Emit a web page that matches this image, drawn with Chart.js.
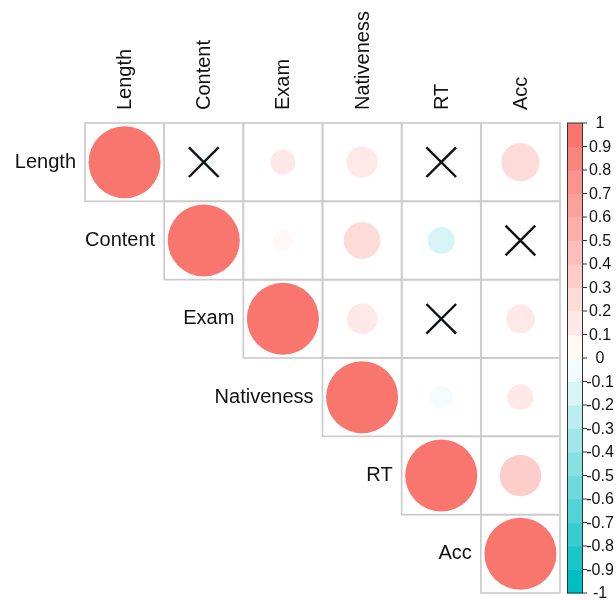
<!DOCTYPE html>
<html>
<head>
<meta charset="utf-8">
<script src="https://cdn.jsdelivr.net/npm/chart.js@4"></script>
<style>
  html, body { margin: 0; padding: 0; background: #ffffff; }
  canvas { display: block; }
</style>
</head>
<body>
<canvas id="corr" width="616" height="600"></canvas>
<script>
// Variables of the correlation matrix (upper triangle is drawn)
const variables = ['Length', 'Content', 'Exam', 'Nativeness', 'RT', 'Acc'];

// Correlation coefficients, one row per variable (null below the diagonal)
const rLength     = [1.00, -0.06, 0.12, 0.19, 0.02, 0.28];
const rContent    = [null, 1.00, 0.08, 0.26, -0.14, 0.03];
const rExam       = [null, null, 1.00, 0.18, -0.06, 0.16];
const rNativeness = [null, null, null, 1.00, -0.10, 0.13];
const rRT         = [null, null, null, null, 1.00, 0.33];
const rAcc        = [null, null, null, null, null, 1.00];
const corrRows = [rLength, rContent, rExam, rNativeness, rRT, rAcc];

// Pairs whose correlation is not significant (crossed out)
const insignificantPairs = [
  ['Length', 'Content'],
  ['Length', 'RT'],
  ['Content', 'Acc'],
  ['Exam', 'RT']
];

// Colour bar tick labels
const colorbarTicks = [1, 0.9, 0.8, 0.7, 0.6, 0.5, 0.4, 0.3, 0.2, 0.1, 0,
  -0.1, -0.2, -0.3, -0.4, -0.5, -0.6, -0.7, -0.8, -0.9, -1];

// Palette: teal -> white -> salmon, 20 discrete steps
const NEG = [0, 191, 196];
const MID = [255, 255, 255];
const POS = [248, 118, 109];
const NSTEPS = 20;

function mix(a, b, f) {
  return a.map((c, i) => Math.round(c + (b[i] - c) * f));
}
function paletteColor(k) {
  const t = k / (NSTEPS - 1);
  const c = t < 0.5 ? mix(NEG, MID, t / 0.5) : mix(MID, POS, (t - 0.5) / 0.5);
  return `rgb(${c[0]},${c[1]},${c[2]})`;
}
function colorFor(v) {
  let k = Math.floor((v + 1) * NSTEPS / 2 + 1e-9);
  k = Math.max(0, Math.min(NSTEPS - 1, k));
  return paletteColor(k);
}

// Circle points
const circlePoints = [];
corrRows.forEach((row, i) => {
  row.forEach((v, j) => {
    if (v !== null) circlePoints.push({ x: j, y: i, v: v });
  });
});

// Cross points
const crossPoints = insignificantPairs.map(([a, b]) => ({
  x: variables.indexOf(b),
  y: variables.indexOf(a)
}));

const FONT = '"Liberation Sans", Arial, Helvetica, sans-serif';

function cellWidth(chart) {
  const xs = chart.scales && chart.scales.x;
  if (!xs) return 0;
  const w = xs.getPixelForValue(1) - xs.getPixelForValue(0);
  return isFinite(w) ? w : 0;
}
function circleRadius(ctx) {
  if (!ctx.raw) return 0;
  return 0.455 * cellWidth(ctx.chart) * Math.sqrt(Math.abs(ctx.raw.v));
}
function circleColor(ctx) {
  return ctx.raw ? colorFor(ctx.raw.v) : POS;
}

const matrixDecor = {
  id: 'matrixDecor',
  beforeDatasetsDraw(chart) {
    const { ctx, scales: { x, y } } = chart;
    ctx.save();
    ctx.strokeStyle = '#cccccc';
    ctx.lineWidth = 1.7;
    corrRows.forEach((row, i) => {
      row.forEach((v, j) => {
        if (v === null) return;
        const x0 = x.getPixelForValue(j - 0.5);
        const x1 = x.getPixelForValue(j + 0.5);
        const y0 = y.getPixelForValue(i - 0.5);
        const y1 = y.getPixelForValue(i + 0.5);
        ctx.strokeRect(x0, y0, x1 - x0, y1 - y0);
      });
    });
    ctx.restore();
  },
  afterDraw(chart) {
    const { ctx, chartArea, scales: { x, y, cb } } = chart;
    ctx.save();
    ctx.fillStyle = '#111111';
    ctx.font = `20px ${FONT}`;

    // column labels, rotated
    variables.forEach((name, j) => {
      ctx.save();
      ctx.translate(x.getPixelForValue(j), chartArea.top - 13);
      ctx.rotate(-Math.PI / 2);
      ctx.textAlign = 'left';
      ctx.textBaseline = 'middle';
      ctx.fillText(name, 0, 1);
      ctx.restore();
    });

    // row labels, next to the diagonal
    ctx.textAlign = 'right';
    ctx.textBaseline = 'middle';
    variables.forEach((name, i) => {
      ctx.fillText(name, x.getPixelForValue(i - 0.5) - 9, y.getPixelForValue(i));
    });

    // colour bar
    const bx0 = chartArea.right + 7;
    const bx1 = chartArea.right + 23;
    for (let k = 0; k < NSTEPS; k++) {
      const lo = -1 + k * 2 / NSTEPS;
      const hi = lo + 2 / NSTEPS;
      const p0 = cb.getPixelForValue(hi);
      const p1 = cb.getPixelForValue(lo);
      ctx.fillStyle = paletteColor(k);
      ctx.fillRect(bx0, p0, bx1 - bx0, p1 - p0 + 0.5);
    }
    ctx.strokeStyle = '#333333';
    ctx.lineWidth = 1;
    const top = cb.getPixelForValue(1);
    const bot = cb.getPixelForValue(-1);
    ctx.strokeRect(bx0 + 0.5, top, bx1 - bx0 - 1, bot - top);

    ctx.fillStyle = '#111111';
    ctx.font = `16px ${FONT}`;
    ctx.textAlign = 'center';
    ctx.textBaseline = 'middle';
    colorbarTicks.forEach(t => {
      const py = cb.getPixelForValue(t);
      ctx.beginPath();
      ctx.moveTo(bx1 - 0.5, py);
      ctx.lineTo(bx1 + 4, py);
      ctx.stroke();
      ctx.fillText(String(t), bx1 + 17, py + 1);
    });
    ctx.restore();
  }
};

new Chart(document.getElementById('corr'), {
  type: 'scatter',
  data: {
    datasets: [
      {
        label: 'insignificant',
        data: crossPoints,
        order: 0,
        pointStyle: 'crossRot',
        pointRadius: 21,
        borderColor: '#111111',
        backgroundColor: '#111111',
        borderWidth: 2.4
      },
      {
        label: 'correlation',
        data: circlePoints,
        order: 1,
        pointStyle: 'circle',
        borderWidth: 0,
        pointBackgroundColor: circleColor,
        pointBorderColor: circleColor,
        pointRadius: circleRadius
      }
    ]
  },
  options: {
    responsive: false,
    animation: false,
    events: [],
    layout: { autoPadding: false, padding: { left: 85, right: 56, top: 123, bottom: 7 } },
    plugins: { legend: { display: false }, tooltip: { enabled: false } },
    scales: {
      x: { type: 'linear', min: -0.5, max: 5.5, display: false },
      y: { type: 'linear', min: -0.5, max: 5.5, reverse: true, display: false },
      cb: { type: 'linear', axis: 'y', min: -1, max: 1, display: false }
    }
  },
  plugins: [matrixDecor]
});
</script>
</body>
</html>
